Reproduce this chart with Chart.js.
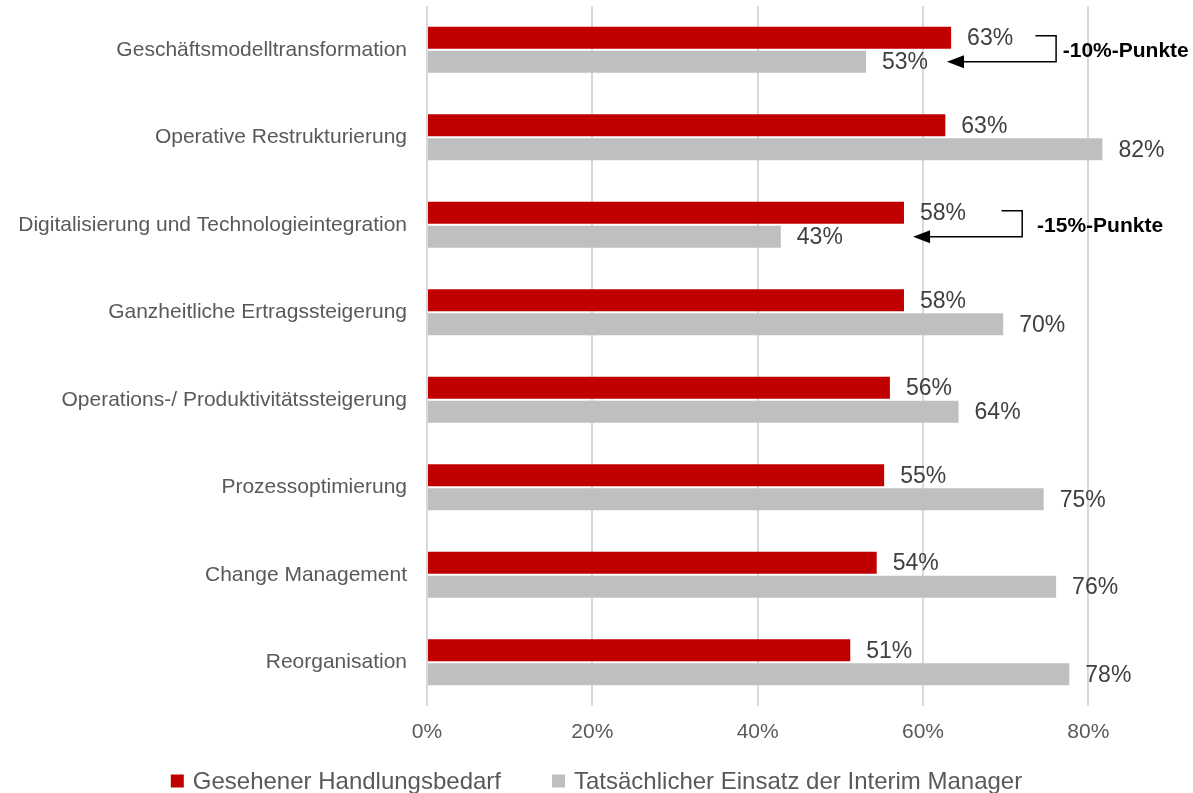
<!DOCTYPE html>
<html>
<head>
<meta charset="utf-8">
<script src="https://cdn.jsdelivr.net/npm/chart.js@4/dist/chart.umd.min.js"></script>
<style>
  html, body { margin: 0; padding: 0; background: #fff; }
  #wrap { width: 1193px; height: 793px; }
</style>
</head>
<body>
<div id="wrap"><canvas id="chart"></canvas></div>
<script>
const categories = [
  'Geschäftsmodelltransformation',
  'Operative Restrukturierung',
  'Digitalisierung und Technologieintegration',
  'Ganzheitliche Ertragssteigerung',
  'Operations-/ Produktivitätssteigerung',
  'Prozessoptimierung',
  'Change Management',
  'Reorganisation'
];
const seriesNames = ['Gesehener Handlungsbedarf', 'Tatsächlicher Einsatz der Interim Manager'];
const bedarf = [0.634, 0.627, 0.577, 0.577, 0.560, 0.553, 0.544, 0.512];
const einsatz = [0.531, 0.817, 0.428, 0.697, 0.643, 0.746, 0.761, 0.777];
const xTicks = [0, 0.2, 0.4, 0.6, 0.8];

// annotation brackets (row index, text, x in axis units)
const notes = [
  { row: 0, text: '-10%-Punkte', from: 0.736, bend: 0.761, tip: 0.629, textX: 0.769 },
  { row: 2, text: '-15%-Punkte', from: 0.695, bend: 0.720, tip: 0.588, textX: 0.738 }
];

const FONT = '"Liberation Sans", Arial, sans-serif';
const RED = '#C00000';
const GREY = '#BFBFBF';

const valueLabels = {
  id: 'valueLabels',
  afterDatasetsDraw(chart) {
    const ctx = chart.ctx;
    ctx.save();
    ctx.font = '23px ' + FONT;
    ctx.fillStyle = '#404040';
    ctx.textAlign = 'left';
    ctx.textBaseline = 'middle';
    chart.data.datasets.forEach((ds, di) => {
      chart.getDatasetMeta(di).data.forEach((bar, i) => {
        ctx.fillText(Math.round(ds.data[i] * 100) + '%', bar.x + 16, bar.y + 1);
      });
    });
    ctx.restore();
  }
};

const brackets = {
  id: 'brackets',
  afterDraw(chart) {
    const ctx = chart.ctx;
    const xs = chart.scales.x;
    const red = chart.getDatasetMeta(0).data;
    const grey = chart.getDatasetMeta(1).data;
    ctx.save();
    notes.forEach(n => {
      const yTop = red[n.row].y - 2;
      const yBot = grey[n.row].y;
      const x0 = xs.getPixelForValue(n.from);
      const x1 = xs.getPixelForValue(n.bend);
      const xt = xs.getPixelForValue(n.tip);
      ctx.strokeStyle = '#000';
      ctx.lineWidth = 1.5;
      ctx.beginPath();
      ctx.moveTo(x0, yTop);
      ctx.lineTo(x1, yTop);
      ctx.lineTo(x1, yBot);
      ctx.lineTo(xt + 15, yBot);
      ctx.stroke();
      ctx.fillStyle = '#000';
      ctx.beginPath();
      ctx.moveTo(xt, yBot);
      ctx.lineTo(xt + 17, yBot - 6.5);
      ctx.lineTo(xt + 17, yBot + 6.5);
      ctx.closePath();
      ctx.fill();
      ctx.font = 'bold 21px ' + FONT;
      ctx.textAlign = 'left';
      ctx.textBaseline = 'middle';
      ctx.fillText(n.text, xs.getPixelForValue(n.textX), (yTop + yBot) / 2 + 2);
    });
    ctx.restore();
  }
};

const bottomLegend = {
  id: 'bottomLegend',
  afterDraw(chart) {
    const ctx = chart.ctx;
    ctx.save();
    ctx.font = '24px ' + FONT;
    ctx.textBaseline = 'middle';
    ctx.textAlign = 'left';
    const box = 13, gap = 9, spacing = 51;
    const items = chart.data.datasets.map(ds => ({
      label: ds.label, color: ds.backgroundColor, w: box + gap + ctx.measureText(ds.label).width
    }));
    const total = items.reduce((s, it) => s + it.w, 0) + spacing * (items.length - 1);
    let x = (chart.width - total) / 2;
    const y = 781;
    items.forEach(it => {
      ctx.fillStyle = it.color;
      ctx.fillRect(x, y - box / 2, box, box);
      ctx.fillStyle = '#595959';
      ctx.fillText(it.label, x + box + gap, y + 1);
      x += it.w + spacing;
    });
    ctx.restore();
  }
};

new Chart(document.getElementById('chart'), {
  type: 'bar',
  data: {
    labels: categories,
    datasets: [
      { label: seriesNames[0], data: bedarf, backgroundColor: RED },
      { label: seriesNames[1], data: einsatz, backgroundColor: GREY }
    ]
  },
  plugins: [valueLabels, brackets, bottomLegend],
  options: {
    indexAxis: 'y',
    responsive: true,
    maintainAspectRatio: false,
    animation: false,
    categoryPercentage: 0.549,
    barPercentage: 0.917,
    layout: { padding: { top: 6, right: 22, left: 0, bottom: 0 } },
    plugins: {
      legend: { display: false },
      tooltip: { enabled: false }
    },
    scales: {
      x: {
        min: 0,
        max: 0.9,
        afterBuildTicks: s => { s.ticks = xTicks.map(v => ({ value: v })); },
        afterFit: s => { s.height = 87; s.paddingLeft = 0; s.paddingRight = 0; },
        grid: { color: '#D9D9D9', lineWidth: 2, drawTicks: false },
        border: { display: false },
        ticks: {
          padding: 14,
          color: '#595959',
          font: { family: FONT, size: 21 },
          callback: v => Math.round(v * 100) + '%'
        }
      },
      y: {
        afterFit: s => { s.width = 427; s.paddingTop = 0; s.paddingBottom = 0; },
        grid: { display: false, drawTicks: false },
        border: { display: false },
        ticks: {
          padding: 20,
          color: '#595959',
          font: { family: FONT, size: 21 }
        }
      }
    }
  }
});
</script>
</body>
</html>
